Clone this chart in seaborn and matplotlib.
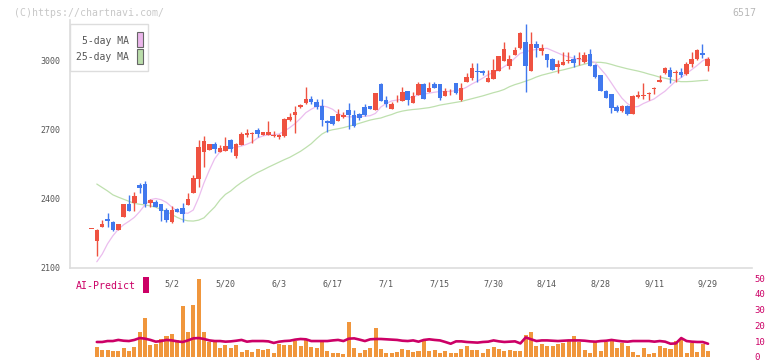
import numpy as np
import pandas as pd
import seaborn as sns
import matplotlib.pyplot as plt
from matplotlib.patches import Rectangle

nan = np.nan

# daily candles (index 0 = first session on the chart)
opens = [2270, 2217, 2280, 2314, 2301, 2267, 2323, 2378, 2384, 2462,
         2465, 2381, 2386, 2377, 2352, 2301, 2358, 2362, 2374, 2426,
         2488, 2606, 2614, 2638, 2606, 2610, 2657, 2587, 2635, 2680,
         2684, 2700, 2680, 2680, 2673, 2671, 2675, 2742, 2767, 2799,
         2817, 2835, 2820, 2804, 2739, 2761, 2741, 2755, 2787, 2764,
         2770, 2801, 2804, 2787, 2900, 2830, 2791, 2824, 2826, 2870,
         2819, 2852, 2900, 2867, 2900, 2900, 2849, 2876, 2904, 2830,
         2910, 2928, 2955, 2957, 2910, 2922, 2957, 3001, 2980, 3026,
         3055, 3081, 2958, 3074, 3045, 3030, 3009, 2975, 2983, 3000,
         3009, 3007, 2994, 3030, 2983, 2939, 2870, 2855, 2801, 2784,
         2806, 2770, 2843, 2847, 2855, 2877, 2910, 2949, 2961, 2948,
         2954, 2943, 2986, 3007, 3033, 2980]
highs = [2270, 2270, 2307, 2339, 2305, 2291, 2380, 2417, 2432, 2470,
         2478, 2401, 2397, 2377, 2362, 2371, 2360, 2381, 2426, 2504,
         2657, 2674, 2640, 2649, 2633, 2671, 2660, 2645, 2693, 2703,
         2690, 2710, 2691, 2739, 2697, 2684, 2751, 2773, 2803, 2811,
         2888, 2848, 2835, 2833, 2743, 2762, 2791, 2777, 2819, 2787,
         2772, 2812, 2806, 2862, 2902, 2846, 2823, 2853, 2886, 2871,
         2864, 2910, 2902, 2907, 2907, 2901, 2881, 2878, 2905, 2903,
         2946, 2990, 2993, 2962, 2961, 3007, 3022, 3081, 3026, 3062,
         3127, 3161, 3127, 3088, 3072, 3032, 3011, 3004, 3038, 3038,
         3026, 3038, 3038, 3052, 2985, 2941, 2872, 2857, 2809, 2810,
         2808, 2852, 2870, 2906, 2867, 2888, 2939, 2975, 2975, 2961,
         2970, 2997, 3038, 3052, 3074, 3019]
lows = [2270, 2153, 2280, 2280, 2262, 2267, 2323, 2349, 2349, 2426,
        2367, 2367, 2365, 2306, 2301, 2297, 2343, 2301, 2374, 2424,
        2451, 2541, 2612, 2601, 2604, 2608, 2606, 2580, 2635, 2668,
        2645, 2671, 2678, 2678, 2670, 2659, 2668, 2740, 2686, 2797,
        2815, 2815, 2791, 2717, 2690, 2722, 2738, 2751, 2704, 2712,
        2745, 2760, 2789, 2785, 2825, 2801, 2789, 2822, 2824, 2809,
        2817, 2850, 2836, 2865, 2882, 2830, 2847, 2851, 2857, 2827,
        2908, 2917, 2910, 2940, 2908, 2920, 2955, 2999, 2965, 3024,
        3053, 2867, 2955, 3016, 3026, 2975, 2961, 2949, 2981, 2990,
        2975, 2983, 2992, 2978, 2925, 2869, 2839, 2773, 2777, 2780,
        2765, 2770, 2838, 2835, 2830, 2855, 2908, 2945, 2906, 2910,
        2930, 2941, 2975, 3005, 3014, 2957]
closes = [2270, 2265, 2291, 2306, 2267, 2291, 2378, 2349, 2413, 2449,
          2378, 2395, 2367, 2349, 2310, 2351, 2345, 2336, 2401, 2492,
          2627, 2652, 2639, 2619, 2622, 2632, 2619, 2639, 2681, 2686,
          2688, 2681, 2689, 2691, 2680, 2678, 2749, 2757, 2780, 2807,
          2835, 2822, 2801, 2743, 2732, 2726, 2770, 2765, 2764, 2719,
          2750, 2765, 2791, 2860, 2827, 2813, 2813, 2827, 2864, 2830,
          2848, 2900, 2836, 2884, 2884, 2841, 2871, 2878, 2862, 2881,
          2932, 2971, 2953, 2947, 2928, 2961, 3020, 3052, 3009, 3048,
          3123, 2980, 3074, 3055, 3055, 3004, 2961, 2988, 2997, 3004,
          2990, 3010, 3026, 2980, 2932, 2871, 2841, 2794, 2784, 2806,
          2770, 2848, 2852, 2849, 2858, 2879, 2917, 2971, 2932, 2950,
          2939, 2987, 3009, 3048, 3026, 3009]

ma5 = [nan, 2127, 2160, 2205, 2240, 2268, 2288, 2303, 2320, 2345,
       2375, 2397, 2402, 2397, 2385, 2365, 2347, 2340, 2338, 2352,
       2405, 2470, 2525, 2575, 2606, 2615, 2621, 2625, 2630, 2638,
       2648, 2665, 2674, 2679, 2680, 2682, 2695, 2710, 2728, 2750,
       2775, 2790, 2802, 2805, 2800, 2790, 2772, 2760, 2757, 2757,
       2757, 2760, 2762, 2772, 2800, 2815, 2826, 2830, 2834, 2838,
       2844, 2852, 2856, 2860, 2864, 2867, 2867, 2868, 2871, 2875,
       2886, 2900, 2912, 2925, 2940, 2950, 2960, 2975, 2990, 3012,
       3033, 3040, 3046, 3050, 3053, 3055, 3045, 3035, 3025, 3018,
       3012, 3007, 3004, 3001, 2993, 2966, 2939, 2905, 2870, 2838,
       2815, 2800, 2802, 2815, 2825, 2835, 2852, 2868, 2890, 2912,
       2927, 2945, 2962, 2980, 3000, 3012]
ma25 = [nan, 2465, 2450, 2435, 2418, 2408, 2399, 2390, 2381, 2377,
        2374, 2370, 2364, 2355, 2345, 2333, 2320, 2310, 2305, 2304,
        2308, 2318, 2342, 2365, 2396, 2420, 2435, 2455, 2472, 2487,
        2502, 2515, 2526, 2538, 2549, 2560, 2571, 2581, 2594, 2607,
        2623, 2640, 2662, 2682, 2695, 2701, 2705, 2710, 2716, 2722,
        2729, 2736, 2743, 2748, 2752, 2760, 2767, 2776, 2782, 2786,
        2789, 2791, 2794, 2797, 2802, 2808, 2812, 2816, 2820, 2824,
        2830, 2836, 2842, 2848, 2855, 2862, 2868, 2876, 2888, 2897,
        2904, 2912, 2920, 2930, 2938, 2944, 2950, 2956, 2961, 2967,
        2973, 2980, 2986, 2992, 2994, 2994, 2991, 2985, 2978, 2972,
        2966, 2961, 2956, 2950, 2943, 2937, 2930, 2925, 2920, 2914,
        2910, 2910, 2911, 2913, 2915, 2916]

# lower panel: bars and AI-Predict line (0..50 scale)
volume = [nan, 6.3, 4.4, 4.4, 3.8, 3.8, 5.7, 3.8, 6.3, 15.8,
          24.7, 7.6, 8.2, 11.4, 13.3, 14.6, 10.8, 32.3, 15.8, 32.9,
          49.4, 15.8, 9.5, 9.5, 5.7, 7.6, 5.7, 7.6, 3.2, 4.4,
          3.2, 5.1, 4.4, 5.1, 2.5, 8.2, 7.6, 7.6, 10.1, 7.0,
          10.8, 6.3, 5.7, 10.1, 3.8, 2.5, 2.5, 1.9, 22.2, 5.7,
          2.5, 4.4, 5.7, 18.4, 5.1, 2.5, 2.5, 3.2, 5.1, 4.4,
          3.2, 3.8, 10.8, 3.8, 4.4, 2.5, 3.8, 2.5, 2.5, 5.1,
          7.0, 4.4, 4.4, 2.5, 5.1, 6.3, 5.1, 3.8, 4.4, 3.8,
          3.8, 13.9, 15.8, 7.0, 8.2, 7.0, 7.0, 8.2, 8.9, 10.8,
          13.3, 9.5, 4.4, 2.5, 9.5, 3.8, 9.5, 10.8, 5.7, 8.9,
          7.0, 3.2, 1.3, 5.7, 1.9, 2.5, 7.0, 5.7, 5.1, 10.1,
          11.4, 2.5, 8.9, 3.2, 8.2, 3.8]
ai_predict = [nan, 9.5, 9.5, 10.1, 10.1, 10.8, 10.3, 10.1, 10.8, 12.0,
              11.6, 10.8, 9.7, 10.1, 10.8, 10.5, 9.9, 9.5, 10.5, 11.8,
              12.0, 11.4, 10.5, 10.1, 10.1, 9.7, 9.9, 10.3, 10.8, 9.7,
              10.1, 10.1, 10.1, 9.9, 8.9, 9.7, 10.1, 10.3, 11.0, 11.4,
              11.2, 10.1, 10.1, 10.1, 10.1, 10.5, 10.8, 10.1, 11.6, 11.8,
              11.0, 10.1, 11.2, 11.4, 11.4, 11.2, 11.0, 10.8, 10.3, 10.1,
              10.5, 9.7, 10.8, 11.2, 10.8, 10.5, 9.5, 8.4, 9.9, 9.9,
              9.5, 9.3, 9.1, 9.5, 9.7, 10.5, 9.9, 9.5, 9.7, 9.9,
              8.6, 12.4, 11.2, 10.1, 10.5, 10.5, 10.3, 10.1, 10.3, 10.5,
              10.5, 10.5, 10.3, 9.9, 9.7, 10.1, 10.3, 10.8, 10.3, 9.9,
              9.7, 10.1, 10.1, 10.1, 10.1, 9.7, 10.1, 9.7, 8.4, 8.6,
              12.0, 10.1, 9.7, 9.5, 9.5, 8.4]

date_labels = ['5/2', '5/20', '6/3', '6/17', '7/1', '7/15', '7/30',
               '8/14', '8/28', '9/11', '9/29']
date_idx = [15, 25, 35, 45, 55, 65, 75, 85, 95, 105, 115]
price_ticks = [2100, 2400, 2700, 3000]
ai_ticks = [0, 10, 20, 30, 40, 50]

df = pd.DataFrame({'open': opens, 'high': highs, 'low': lows, 'close': closes,
                   'ma5': ma5, 'ma25': ma25, 'vol': volume, 'ai': ai_predict})
df['i'] = np.arange(len(df))

RED = '#EF5241'
BLUE = '#4179EE'
GRID = '#dddddd'
CRIMSON = '#CC0066'
MONO = 'DejaVu Sans Mono'

sns.set_style('white')
plt.rcParams['font.family'] = [MONO]

W, H = 772, 361
fig = plt.figure(figsize=(W / 100, H / 100), dpi=100)

xlim = (-4.0, 123.2)
left, right = 70 / W, 752 / W
ax = fig.add_axes([left, 1 - 268 / H, right - left, (268 - 20) / H])
ax.set_xlim(*xlim)
ax.set_ylim(2100, 3178)

# moving averages
sns.lineplot(data=df, x='i', y='ma25', ax=ax, color='#BEE0AE', lw=0.9, zorder=1)
sns.lineplot(data=df, x='i', y='ma5', ax=ax, color='#EBBDEE', lw=0.9, zorder=1)

# candles
up = df['close'] >= df['open']
colors = np.where(up, RED, BLUE)
ax.vlines(df['i'], df['low'], df['high'], colors=colors, lw=1.0, zorder=2)
body_lo = df[['open', 'close']].min(axis=1)
body_h = (df['close'] - df['open']).abs().clip(lower=4)
ax.bar(df['i'], body_h, bottom=body_lo, width=0.85, color=colors, linewidth=0, zorder=3)

for s in ['top', 'right']:
    ax.spines[s].set_visible(False)
for s in ['left', 'bottom']:
    ax.spines[s].set_color(GRID)
    ax.spines[s].set_linewidth(1.2)

ax.set_yticks(price_ticks)
ax.set_yticklabels([str(t) for t in price_ticks])
ax.tick_params(axis='y', length=5, width=1, color=GRID, labelsize=6, labelcolor='#555555', pad=2)

ax.set_xticks(date_idx)
ax.set_xticklabels(date_labels)
ax.set_xticks(np.arange(7.56, 124, 11.57), minor=True)
ax.tick_params(axis='x', which='major', length=0, labelsize=6, labelcolor='#555555', pad=8)
ax.tick_params(axis='x', which='minor', length=8, width=1.2, color=GRID, direction='inout')
ax.set_xlabel('')
ax.set_ylabel('')

# lower panel
ax2 = fig.add_axes([left, 1 - 357 / H, right - left, (357 - 278) / H])
ax2.set_xlim(*xlim)
ax2.set_ylim(0, 50)
ax2.patch.set_alpha(0)
ax2.bar(df['i'], df['vol'], width=0.75, color='#F0963C', linewidth=0, zorder=1)
sns.lineplot(data=df, x='i', y='ai', ax=ax2, color=CRIMSON, lw=1.9, zorder=2)
for s in ax2.spines.values():
    s.set_visible(False)
ax2.set_xticks([])
ax2.yaxis.tick_right()
ax2.set_yticks(ai_ticks)
ax2.set_yticklabels([str(t) for t in ai_ticks])
ax2.tick_params(axis='y', length=0, labelsize=6.5, labelcolor=CRIMSON, pad=2)
ax2.set_xlabel('')
ax2.set_ylabel('')

# overlay in pixel coordinates for legend box and captions
ov = fig.add_axes([0, 0, 1, 1], zorder=10)
ov.set_xlim(0, W)
ov.set_ylim(H, 0)
ov.axis('off')
ov.patch.set_alpha(0)

ov.text(14, 12.5, '(C)https://chartnavi.com/', fontsize=7.1, color='#c8c8c8',
        ha='left', va='center')
ov.text(756, 12.5, '6517', fontsize=7.1, color='#b8b8b8', ha='right', va='center')

ov.add_patch(Rectangle((70, 24), 78, 47, facecolor='white', edgecolor=GRID, lw=1))
ov.text(129, 40.5, '5-day MA', fontsize=7, color='#555555', ha='right', va='center')
ov.text(129, 57, '25-day MA', fontsize=7, color='#555555', ha='right', va='center')
ov.add_patch(Rectangle((137, 32), 5.5, 14.5, facecolor='#EBB6EB', edgecolor='#666666', lw=0.8))
ov.add_patch(Rectangle((137, 49), 5.5, 14.5, facecolor='#BADDAA', edgecolor='#666666', lw=0.8))

ov.text(76, 286, 'AI-Predict', fontsize=7.1, color=CRIMSON, ha='left', va='center')
ov.add_patch(Rectangle((142.5, 277), 6, 16, facecolor=CRIMSON, edgecolor='none'))

fig.savefig('out.png', dpi=100)
